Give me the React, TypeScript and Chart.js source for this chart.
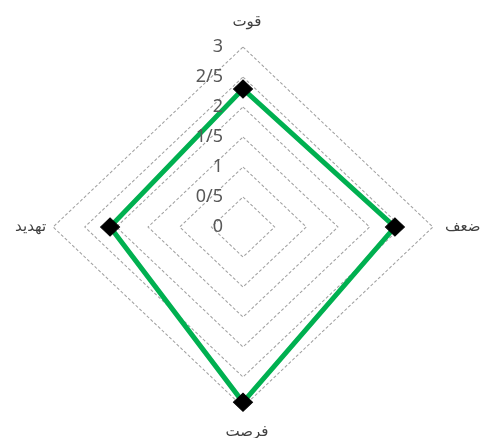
import React, { useEffect, useRef } from 'react';
import { Chart, registerables } from 'chart.js';

Chart.register(...registerables);

const categories = ['قوت', 'ضعف', 'فرصت', 'تهدید'];
const values = [2.3, 2.4, 2.92, 2.1];
const tickValues = [0, 0.5, 1, 1.5, 2, 2.5, 3];
const tickLabels = ['0', '0/5', '1', '1/5', '2', '2/5', '3'];

const SX = 1.055;

export default function App() {
  const ref = useRef<HTMLCanvasElement>(null);

  useEffect(() => {
    document.body.style.margin = '0';
    document.body.style.overflow = 'hidden';
    const canvas = ref.current;
    if (!canvas) return;

    const stretch = {
      id: 'stretch',
      beforeDraw(chart: any) {
        const s = chart.scales.r;
        const ctx = chart.ctx;
        ctx.save();
        ctx.translate(s.xCenter, 0);
        ctx.scale(SX, 1);
        ctx.translate(-s.xCenter, 0);
      },
      afterDatasetsDraw(chart: any) {
        chart.ctx.restore();
      },
      afterDraw(chart: any) {
        const s = chart.scales.r;
        const ctx = chart.ctx;
        ctx.save();
        ctx.font = '18px "Noto Sans", "DejaVu Sans", sans-serif';
        ctx.fillStyle = '#595959';
        ctx.textAlign = 'right';
        ctx.textBaseline = 'middle';
        tickValues.forEach((v, i) => {
          const d = s.getDistanceFromCenterForValue(v);
          ctx.fillText(tickLabels[i], s.xCenter - 20, s.yCenter - d);
        });
        ctx.font = '15px "DejaVu Sans", sans-serif';
        ctx.fillStyle = '#404040';
        const R = s.drawingArea;
        categories.forEach((c, i) => {
          const p = s.getPointPosition(i, R);
          const dx = (p.x - s.xCenter) * SX;
          const dy = p.y - s.yCenter;
          if (Math.abs(dx) < 1) {
            ctx.textAlign = 'center';
            ctx.fillText(c, s.xCenter + 4, dy < 0 ? s.yCenter - R - 25 : s.yCenter + R + 25);
          } else if (dx > 0) {
            ctx.textAlign = 'left';
            ctx.fillText(c, s.xCenter + dx + 12, s.yCenter);
          } else {
            ctx.textAlign = 'right';
            ctx.fillText(c, s.xCenter + dx - 7, s.yCenter);
          }
        });
        ctx.restore();
      },
    };

    const chart = new Chart(canvas, {
      type: 'radar',
      data: {
        labels: categories,
        datasets: [
          {
            data: values,
            borderColor: '#00B050',
            borderWidth: 4.8,
            fill: false,
            pointStyle: 'rectRot',
            pointRadius: 9,
            pointBackgroundColor: '#000000',
            pointBorderColor: '#000000',
            pointBorderWidth: 1,
            clip: false,
          } as any,
        ],
      },
      options: {
        animation: false,
        responsive: false,
        layout: { padding: { left: 63, right: 57, top: 47, bottom: 31 } },
        plugins: { legend: { display: false }, tooltip: { enabled: false } },
        scales: {
          r: {
            min: 0,
            max: 3,
            ticks: { stepSize: 0.5, display: false },
            grid: { color: '#A0A0A0', lineWidth: 1 },
            border: { dash: [3, 2] },
            angleLines: { display: false },
            pointLabels: { display: false },
          } as any,
        },
      },
      plugins: [stretch],
    });
    return () => chart.destroy();
  }, []);

  return <canvas ref={ref} width={480} height={438} style={{ display: 'block' }} />;
}
